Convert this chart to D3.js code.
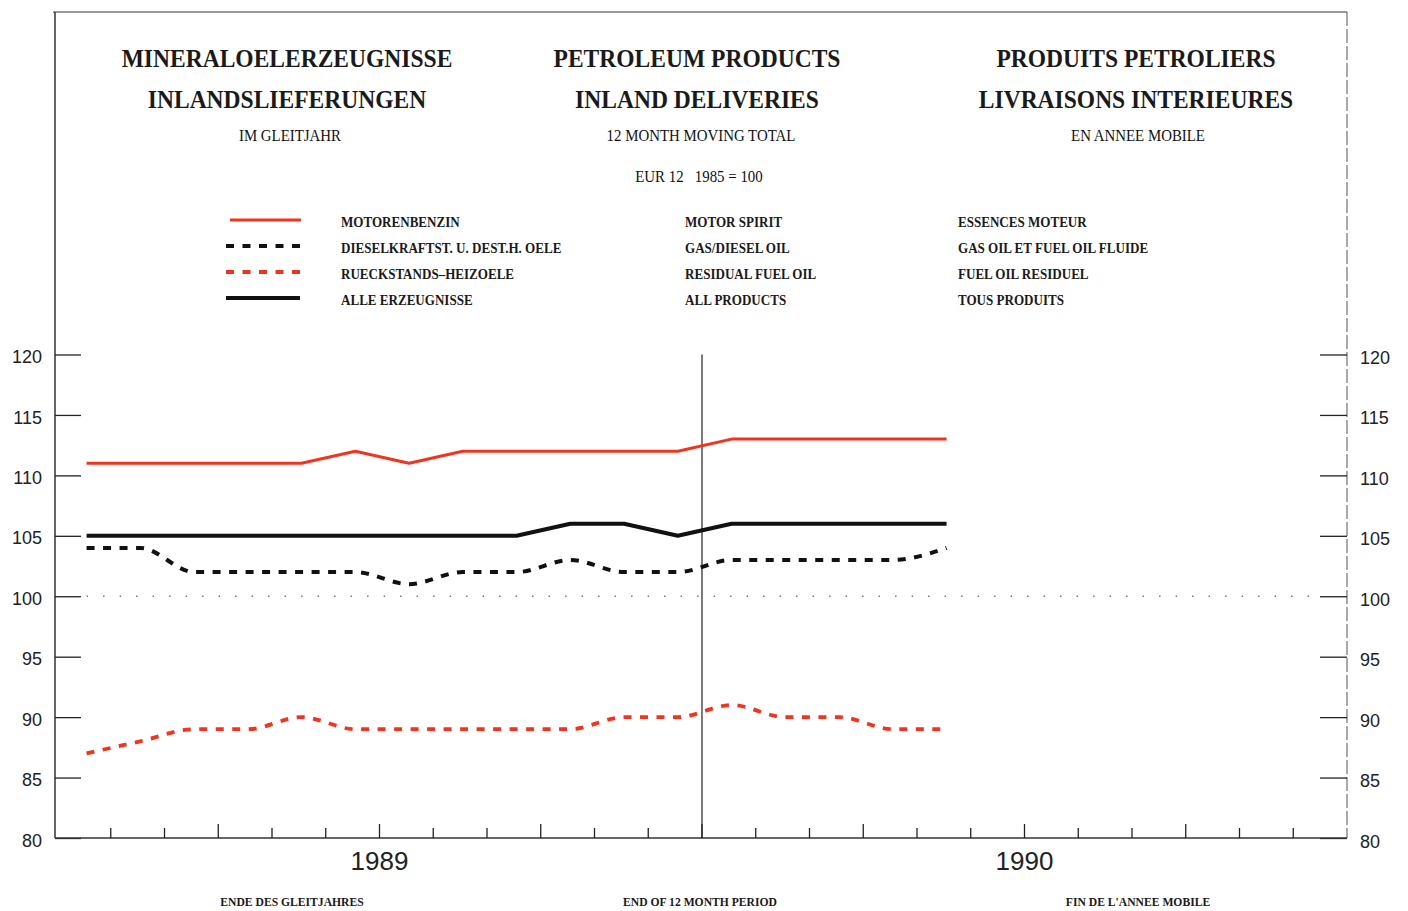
<!DOCTYPE html>
<html><head><meta charset="utf-8">
<script src="https://cdn.jsdelivr.net/npm/d3@7"></script>
<style>
body{margin:0;background:#fff;}
svg{display:block;}
.serif{font-family:"Liberation Serif","DejaVu Serif",serif;font-weight:bold;fill:#1a1a1a;}
.serifn{font-family:"Liberation Serif","DejaVu Serif",serif;font-weight:normal;fill:#111;}
.sans{font-family:"Liberation Sans",Arial,sans-serif;fill:#222;}
</style>
</head><body>
<svg id="c" width="1408" height="911"></svg>
<script>
// ---- data ----
const months = d3.range(17);              // consecutive monthly observations (index)
const motorSpirit = [111,111,111,111,111,112,111,112,112,112,112,112,113,113,113,113,113];
const gasDiesel   = [104,104,102,102,102,102,101,102,102,103,102,102,103,103,103,103,104];
const residual    = [87,88,89,89,90,89,89,89,89,89,90,90,91,90,90,89,89];
const allProducts = [105,105,105,105,105,105,105,105,105,106,106,105,106,106,106,106,106];
const yTicks = [80,85,90,95,100,105,110,115,120];
const yearLabels = ["1989","1990"];
const yearTickMonths = [6,18];
const titlesDE = ["MINERALOELERZEUGNISSE","INLANDSLIEFERUNGEN","IM GLEITJAHR","ENDE DES GLEITJAHRES"];
const titlesEN = ["PETROLEUM PRODUCTS","INLAND DELIVERIES","12 MONTH MOVING TOTAL","END OF 12 MONTH PERIOD"];
const titlesFR = ["PRODUITS PETROLIERS","LIVRAISONS INTERIEURES","EN ANNEE MOBILE","FIN DE L'ANNEE MOBILE"];
const baseNote = "EUR 12\u00a0\u00a0\u00a01985 = 100";
const legendDE = ["MOTORENBENZIN","DIESELKRAFTST. U. DEST.H. OELE","RUECKSTANDS\u2013HEIZOELE","ALLE ERZEUGNISSE"];
const legendEN = ["MOTOR SPIRIT","GAS/DIESEL OIL","RESIDUAL FUEL OIL","ALL PRODUCTS"];
const legendFR = ["ESSENCES MOTEUR","GAS OIL ET FUEL OIL FLUIDE","FUEL OIL RESIDUEL","TOUS PRODUITS"];

// ---- layout ----
const svg = d3.select("#c");
const L = 57, R = 1347, T = 354.5, B = 838;
const x = d3.scaleLinear().domain([0,24]).range([L,R]);
const y = d3.scaleLinear().domain([80,120]).range([B,T]);
const offset = 0.55; // first observation position within axis months
const RED = "#f0341f", BLACK = "#111";

const series = [
  {vals: motorSpirit, color: RED, w: 3, dash: null, curve: d3.curveLinear},
  {vals: gasDiesel, color: BLACK, w: 4, dash: "8,8.5", curve: d3.curveMonotoneX},
  {vals: residual, color: RED, w: 3.8, dash: "8,8.5", curve: d3.curveMonotoneX},
  {vals: allProducts, color: BLACK, w: 4, dash: null, curve: d3.curveLinear}
];

// frame
svg.append("line").attr("x1",53).attr("x2",R).attr("y1",12).attr("y2",12).attr("stroke","#333").attr("stroke-width",1.2);
svg.append("line").attr("x1",55).attr("x2",55).attr("y1",12).attr("y2",B).attr("stroke","#333").attr("stroke-width",1.5);
svg.append("line").attr("x1",R).attr("x2",R).attr("y1",12).attr("y2",B).attr("stroke","#555").attr("stroke-width",1).attr("stroke-dasharray","14,3");

function condense(sel, f){
  sel.each(function(){ const n=this.getComputedTextLength(); d3.select(this).attr("textLength", n*f).attr("lengthAdjust","spacingAndGlyphs"); });
}

// titles
const cols = [{cx:287,sx:290,t:titlesDE,b:292},{cx:697,sx:701,t:titlesEN,b:700},{cx:1136,sx:1138,t:titlesFR,b:1138}];
cols.forEach(c=>{
  condense(svg.append("text").attr("class","serif").attr("x",c.cx).attr("y",67).attr("text-anchor","middle").attr("font-size",24.5).text(c.t[0]),0.96);
  condense(svg.append("text").attr("class","serif").attr("x",c.cx).attr("y",108).attr("text-anchor","middle").attr("font-size",24.5).text(c.t[1]),0.96);
  condense(svg.append("text").attr("class","serifn").attr("x",c.sx).attr("y",141).attr("text-anchor","middle").attr("font-size",16).text(c.t[2]),0.93);
  condense(svg.append("text").attr("class","serif").attr("x",c.b).attr("y",906).attr("text-anchor","middle").attr("font-size",12.5).text(c.t[3]),0.93);
});
condense(svg.append("text").attr("class","serifn").attr("x",699).attr("y",182).attr("text-anchor","middle").attr("font-size",16).text(baseNote),0.93);

// legend
const legY = [220,246,272,298];
series.forEach((s,i)=>{
  svg.append("line").attr("x1", i===0?230:226).attr("x2", i===0?301:300).attr("y1",legY[i]).attr("y2",legY[i])
    .attr("stroke",s.color).attr("stroke-width",s.w).attr("stroke-dasharray",s.dash);
  [[341,legendDE],[685,legendEN],[958,legendFR]].forEach(([lx,arr])=>{
    condense(svg.append("text").attr("class","serif").attr("x",lx).attr("y",legY[i]+7).attr("font-size",14.5).text(arr[i]),0.9);
  });
});

// y axes
const yl = d3.axisLeft(y).tickValues(yTicks).tickSize(26).tickPadding(13);
const gl = svg.append("g").attr("transform",`translate(81,0)`).call(yl);
gl.select(".domain").remove();
gl.selectAll(".tick line").attr("stroke","#222").attr("stroke-width",1.3);
gl.selectAll("text").attr("font-size",18).attr("font-family","Liberation Sans, Arial, sans-serif").attr("fill","#222").attr("dy","0.45em");
const yr = d3.axisRight(y).tickValues(yTicks).tickSize(27).tickPadding(13);
const gr = svg.append("g").attr("transform",`translate(${R-27},0)`).call(yr);
gr.select(".domain").remove();
gr.selectAll(".tick line").attr("stroke","#222").attr("stroke-width",1.3);
gr.selectAll("text").attr("font-size",18).attr("font-family","Liberation Sans, Arial, sans-serif").attr("fill","#222").attr("dy","0.5em");

// x axis
svg.append("line").attr("x1",55).attr("x2",R).attr("y1",B).attr("y2",B).attr("stroke","#333").attr("stroke-width",1.5);
const mt = d3.range(1,24);
svg.selectAll(".xt").data(mt).enter().append("line")
  .attr("x1",d=>x(d)).attr("x2",d=>x(d)).attr("y1",B).attr("y2",d=>B-(d%3===0?14:10))
  .attr("stroke","#222").attr("stroke-width",1.3);
svg.selectAll(".yl").data(yearLabels).enter().append("text").attr("class","sans")
  .attr("x",(d,i)=>x(yearTickMonths[i])).attr("y",870).attr("text-anchor","middle").attr("font-size",26).attr("fill","#222").text(d=>d);

// 100 reference dotted line
svg.append("line").attr("x1",x(0.55)).attr("x2",1322).attr("y1",y(100)).attr("y2",y(100))
  .attr("stroke","#777").attr("stroke-width",1.6).attr("stroke-dasharray","1.5,15");

// vertical marker
svg.append("line").attr("x1",x(12)).attr("x2",x(12)).attr("y1",T).attr("y2",B).attr("stroke","#222").attr("stroke-width",1.2);

// series
series.forEach(s=>{
  const line = d3.line().x((d,i)=>x(months[i]+offset)).y(d=>y(d)).curve(s.curve);
  svg.append("path").datum(s.vals).attr("d",line).attr("fill","none")
    .attr("stroke",s.color).attr("stroke-width",s.w).attr("stroke-dasharray",s.dash).attr("stroke-linejoin","round");
});
</script>
</body></html>
